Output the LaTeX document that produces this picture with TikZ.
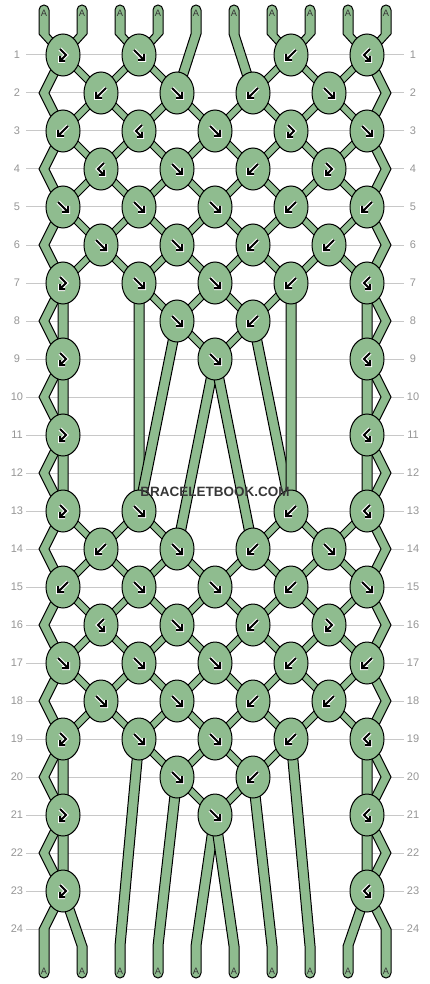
\documentclass[tikz,border=0pt]{standalone}
\usepackage{fontspec}
\setmainfont{Liberation Sans}
\usetikzlibrary{shapes.geometric}

\definecolor{knotgreen}{RGB}{143,188,143}
\definecolor{labelgray}{RGB}{150,150,150}
\definecolor{linegray}{RGB}{200,200,200}
\definecolor{brandgray}{RGB}{55,55,55}

\pgfdeclarelayer{rules}
\pgfdeclarelayer{threads}
\pgfsetlayers{rules,threads,main}

% arrow inside a knot, white edge round it
\newcommand\knotarrow[1]{%
  \begin{scope}[shift={(path picture bounding box.center)}]
    \draw[white,line width=4pt,line cap=square] #1;
    \draw[black,line width=2pt] #1;
  \end{scope}}

% one thread: top end, the points it runs through, bottom end
\newcommand\strandpoly[3]{%
  \gdef\revlist{}%
  \foreach \p in {#2} {\xdef\revlist{\p\ifx\revlist\empty\else,\revlist\fi}}%
  \filldraw[strand] ([xshift=-5pt]#1.center)
    \foreach \p in {#2} { -- ([xshift=-5pt]\p.center) }
    -- ([xshift=-5pt]#3.center) arc[start angle=180,end angle=360,radius=5pt]
    \foreach \p in \revlist { -- ([xshift=5pt]\p.center) }
    -- ([xshift=5pt]#1.center) arc[start angle=0,end angle=180,radius=5pt]
    -- cycle;}

\begin{document}
\begin{tikzpicture}[x=1pt,y=-1pt,
  strand/.style={draw=black,fill=knotgreen,line width=1pt,line join=miter},
  knot/.style={ellipse,draw=black,fill=knotgreen,line width=1pt,
    minimum width=34pt,minimum height=42pt,inner sep=0pt},
  fwd/.style={knot,path picture={\knotarrow{(-5,-5) -- (5,5) (-1,5) -- (5,5) -- (5,-1)}}},
  bwd/.style={knot,path picture={\knotarrow{(5,-5) -- (-5,5) (1,5) -- (-5,5) -- (-5,-1)}}},
  fwdbwd/.style={knot,path picture={\knotarrow{(-3,-6) -- (3,0) -- (-3,6) (2,6) -- (-3,6) -- (-3,1)}}},
  bwdfwd/.style={knot,path picture={\knotarrow{(3,-6) -- (-3,0) -- (3,6) (-2,6) -- (3,6) -- (3,1)}}},
  rowline/.style={draw=linegray,line width=1pt},
  rowlabel/.style={text=labelgray,font=\fontsize{11}{11}\selectfont,inner sep=0pt},
  endlabel/.style={text=black!80,font=\fontsize{9.3}{9.3}\selectfont,inner sep=0pt},
  brand/.style={font=\bfseries\fontsize{13.5}{14}\selectfont,inner sep=0pt}]
\useasboundingbox (0,0) rectangle (430,984);

% row numbers and rules
\begin{pgfonlayer}{rules}
\fill[white] (0,0) rectangle (430,984);
\foreach \r in {1,...,24} {
  \draw[rowline] (26,{55+38*(\r-1)}) -- (404,{55+38*(\r-1)});
  \node[rowlabel] (ll\r) at (17,{55+38*(\r-1)}) {\r};
  \node[rowlabel] (rl\r) at (413,{55+38*(\r-1)}) {\r};
}
\end{pgfonlayer}

% thread ends
\foreach \s in {0,...,9} {
  \coordinate (t\s) at ({44+38*\s},10);
  \coordinate (tb\s) at ({44+38*\s},34);
  \coordinate (bb\s) at ({44+38*\s},946);
  \coordinate (b\s) at ({44+38*\s},973);
  \node[endlabel] (at\s) at ({44+38*\s},13) {A};
  \node[endlabel] (ab\s) at ({44+38*\s},971) {A};
}
\foreach \r in {2,4,...,24} {
  \coordinate (zl\r) at (44,{55+38*(\r-1)});
  \coordinate (zr\r) at (386,{55+38*(\r-1)});
}

% knots
\foreach \r/\j/\kind in {
  1/1/fwdbwd, 1/3/fwd, 1/7/bwd, 1/9/bwdfwd,
  2/2/bwd, 2/4/fwd, 2/6/bwd, 2/8/fwd,
  3/1/bwd, 3/3/bwdfwd, 3/5/fwd, 3/7/fwdbwd, 3/9/fwd,
  4/2/bwdfwd, 4/4/fwd, 4/6/bwd, 4/8/fwdbwd,
  5/1/fwd, 5/3/fwd, 5/5/fwd, 5/7/bwd, 5/9/bwd,
  6/2/fwd, 6/4/fwd, 6/6/bwd, 6/8/bwd,
  7/1/fwdbwd, 7/3/fwd, 7/5/fwd, 7/7/bwd, 7/9/bwdfwd,
  8/4/fwd, 8/6/bwd,
  9/1/fwdbwd, 9/5/fwd, 9/9/bwdfwd,
  11/1/fwdbwd, 11/9/bwdfwd,
  13/1/fwdbwd, 13/3/fwd, 13/7/bwd, 13/9/bwdfwd,
  14/2/bwd, 14/4/fwd, 14/6/bwd, 14/8/fwd,
  15/1/bwd, 15/3/fwd, 15/5/fwd, 15/7/bwd, 15/9/fwd,
  16/2/bwdfwd, 16/4/fwd, 16/6/bwd, 16/8/fwdbwd,
  17/1/fwd, 17/3/fwd, 17/5/fwd, 17/7/bwd, 17/9/bwd,
  18/2/fwd, 18/4/fwd, 18/6/bwd, 18/8/bwd,
  19/1/fwdbwd, 19/3/fwd, 19/5/fwd, 19/7/bwd, 19/9/bwdfwd,
  20/4/fwd, 20/6/bwd,
  21/1/fwdbwd, 21/5/fwd, 21/9/bwdfwd,
  23/1/fwdbwd, 23/9/bwdfwd}
  \node[\kind] (k\r c\j) at ({63+38*(\j-1)},{55+38*(\r-1)}) {};

% threads
\begin{pgfonlayer}{threads}
\strandpoly{t0}{tb0,k1c1,zl2,k3c1,zl4,k5c1,zl6,k7c1,zl8,k9c1,zl10,k11c1,zl12,
  k13c1,zl14,k15c1,zl16,k17c1,zl18,k19c1,zl20,k21c1,zl22,k23c1,zl24}{b0}
\strandpoly{t1}{tb1,k1c1,k2c2,k3c1,k4c2,k5c1,k6c2,k7c1,k9c1,k11c1,k13c1,k14c2,
  k15c1,k16c2,k17c1,k18c2,k19c1,k21c1,k23c1,bb1}{b1}
\strandpoly{t2}{tb2,k1c3,k2c2,k3c3,k4c2,k5c3,k6c2,k7c3,k13c3,k14c2,k15c3,k16c2,
  k17c3,k18c2,k19c3,bb2}{b2}
\strandpoly{t3}{tb3,k1c3,k2c4,k3c3,k4c4,k5c3,k6c4,k7c3,k8c4,k13c3,k14c4,k15c3,
  k16c4,k17c3,k18c4,k19c3,k20c4,bb3}{b3}
\strandpoly{t4}{tb4,k2c4,k3c5,k4c4,k5c5,k6c4,k7c5,k8c4,k9c5,k14c4,k15c5,k16c4,
  k17c5,k18c4,k19c5,k20c4,k21c5,bb4}{b4}
\strandpoly{t5}{tb5,k2c6,k3c5,k4c6,k5c5,k6c6,k7c5,k8c6,k9c5,k14c6,k15c5,k16c6,
  k17c5,k18c6,k19c5,k20c6,k21c5,bb5}{b5}
\strandpoly{t6}{tb6,k1c7,k2c6,k3c7,k4c6,k5c7,k6c6,k7c7,k8c6,k13c7,k14c6,k15c7,
  k16c6,k17c7,k18c6,k19c7,k20c6,bb6}{b6}
\strandpoly{t7}{tb7,k1c7,k2c8,k3c7,k4c8,k5c7,k6c8,k7c7,k13c7,k14c8,k15c7,k16c8,
  k17c7,k18c8,k19c7,bb7}{b7}
\strandpoly{t8}{tb8,k1c9,k2c8,k3c9,k4c8,k5c9,k6c8,k7c9,k9c9,k11c9,k13c9,k14c8,
  k15c9,k16c8,k17c9,k18c8,k19c9,k21c9,k23c9,bb8}{b8}
\strandpoly{t9}{tb9,k1c9,zr2,k3c9,zr4,k5c9,zr6,k7c9,zr8,k9c9,zr10,k11c9,zr12,
  k13c9,zr14,k15c9,zr16,k17c9,zr18,k19c9,zr20,k21c9,zr22,k23c9,zr24}{b9}
\end{pgfonlayer}

% site name
\node[brand,text=brandgray] (site) at (215,492) {BRACELETBOOK.COM};
\end{tikzpicture}
\end{document}
